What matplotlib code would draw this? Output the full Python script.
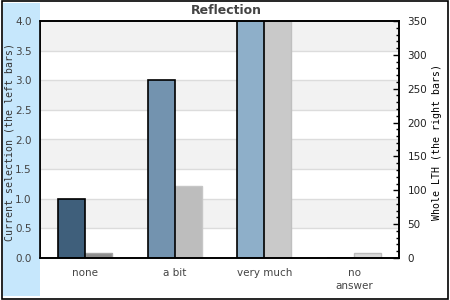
import matplotlib
matplotlib.use("Agg")
import matplotlib.pyplot as plt
from matplotlib.patches import Rectangle
from matplotlib.ticker import MultipleLocator
import numpy as np

categories = ["none", "a bit", "very much", "no\nanswer"]
current_vals = [1.0, 3.0, 4.0, 0.0]
whole_vals = [8, 106, 350, 7]

left_colors = ["#3f5f7b", "#7393af", "#8eafc9", "#a9c7de"]
right_colors = ["#8c8c8c", "#bdbdbd", "#c9c9c9", "#d9d9d9"]
right_edges = ["#a6a6a6", "#c6c6c6", "#bfbfbf", "#bdbdbd"]

W, H = 450, 300
fig = plt.figure(figsize=(4.5, 3), dpi=100)
fig.patch.set_facecolor("white")

# light blue band on the left and outer frame
fig.patches.append(Rectangle((3 / W, 4 / H), 37 / W, 293 / H, transform=fig.transFigure,
                             facecolor="#c6e7fc", edgecolor="none", zorder=0))
fig.patches.append(Rectangle((2 / W, 1 / H), 445.5 / W, 298 / H, transform=fig.transFigure,
                             facecolor="none", edgecolor="black", lw=1.2, zorder=5))

ax = fig.add_axes([40 / W, 42 / H, 359 / W, 237 / H])
ax.set_xlim(0, 4)
ax.set_ylim(0, 4)
ax2 = ax.twinx()
ax2.set_ylim(0, 350)

# alternating bands and grid lines (drawn on the back axes, in left-axis units)
k = 350 / 4
for lo in np.arange(0.5, 4, 1.0):
    ax2.axhspan(lo * k, (lo + 0.5) * k, color="#f2f2f2", zorder=0, lw=0)
for y in np.arange(0.5, 4, 0.5):
    ax2.axhline(y * k, color="#dcdcdc", lw=1, zorder=0.5)

x = np.arange(len(categories)) + 0.5
bw = 0.3
ax.bar(x - bw / 2, current_vals, width=bw, color=left_colors, edgecolor="black",
       linewidth=1.2, zorder=2)
ax2.bar(x + bw / 2, whole_vals, width=bw, color=right_colors, edgecolor=right_edges,
        linewidth=1, zorder=1)
ax.set_zorder(ax2.get_zorder() + 1)
ax.patch.set_visible(False)
ax2.patch.set_visible(True)

ax.set_xticks(x)
ax.set_xticklabels(categories, fontsize=7.5, color="#444444", linespacing=1.35)
ax.tick_params(axis="x", length=0, pad=7)
ax.set_yticks(np.arange(0, 4.01, 0.5))
ax.set_yticklabels([f"{v:.1f}" for v in np.arange(0, 4.01, 0.5)], fontsize=7.5, color="#444444")
ax.tick_params(axis="y", length=0, pad=6)

ax2.yaxis.set_major_locator(MultipleLocator(50))
ax2.yaxis.set_minor_locator(MultipleLocator(10))
ax2.tick_params(axis="y", which="major", direction="in", length=4, width=1,
                labelsize=7.5, labelcolor="#222222", pad=6)
ax2.tick_params(axis="y", which="minor", direction="in", length=2.5, width=1)

for a in (ax, ax2):
    for s in a.spines.values():
        s.set_color("black")
        s.set_linewidth(1.2)

mono = "DejaVu Sans Mono"
fig.text(10 / W, 1 - 142 / H, "Current selection (the left bars)", rotation=90,
         ha="center", va="center", fontsize=7.1, family=mono, color="#333333")
fig.text(437 / W, 1 - 142 / H, "Whole LTH (the right bars)", rotation=90,
         ha="center", va="center", fontsize=7.1, family=mono, color="black")
fig.text(226 / W, 1 - 11 / H, "Reflection", ha="center", va="center", fontsize=9,
         fontweight="bold", color="#444444")

fig.savefig("out.png", dpi=100)
